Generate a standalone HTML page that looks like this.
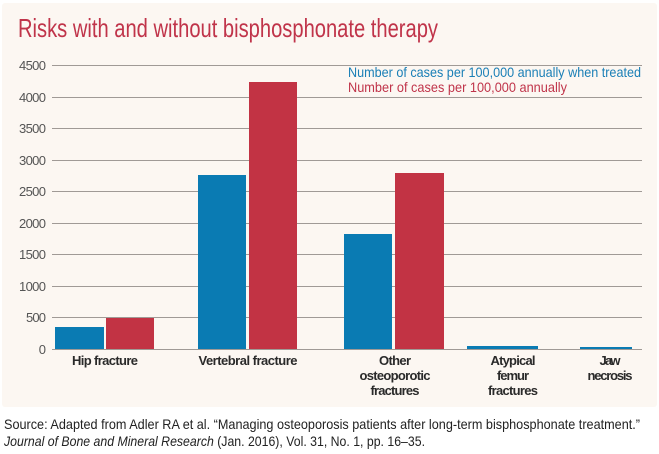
<!DOCTYPE html>
<html><head><meta charset="utf-8"><style>
html,body{margin:0;padding:0;background:#fff;}
svg{display:block;}
text{font-family:"Liberation Sans Narrow","Liberation Sans",sans-serif;}
</style></head><body>
<svg width="659" height="454" viewBox="0 0 659 454" xmlns="http://www.w3.org/2000/svg">
<rect x="2" y="3" width="655" height="404" fill="#fcf7f2" rx="3"/>
<text x="18" y="37" font-size="26" fill="#c0344a" textLength="420" lengthAdjust="spacingAndGlyphs">Risks with and without bisphosphonate therapy</text>
<g stroke="#a09a96" stroke-width="1">
<line x1="52" y1="65.5" x2="642" y2="65.5"/>
<line x1="52" y1="97.5" x2="642" y2="97.5"/>
<line x1="52" y1="128.5" x2="642" y2="128.5"/>
<line x1="52" y1="160.5" x2="642" y2="160.5"/>
<line x1="52" y1="191.5" x2="642" y2="191.5"/>
<line x1="52" y1="223.5" x2="642" y2="223.5"/>
<line x1="52" y1="254.5" x2="642" y2="254.5"/>
<line x1="52" y1="286.5" x2="642" y2="286.5"/>
<line x1="52" y1="317.5" x2="642" y2="317.5"/>
<line x1="52" y1="349.5" x2="642" y2="349.5"/>
</g>
<g font-size="13" fill="#555" text-anchor="end" lengthAdjust="spacingAndGlyphs">
<text x="46" y="70" textLength="27">4500</text><text x="46" y="102" textLength="27">4000</text><text x="46" y="133" textLength="27">3500</text>
<text x="46" y="165" textLength="27">3000</text><text x="46" y="196" textLength="27">2500</text><text x="46" y="228" textLength="27">2000</text>
<text x="46" y="259" textLength="27">1500</text><text x="46" y="291" textLength="27">1000</text><text x="46" y="322" textLength="20">500</text>
<text x="46" y="354">0</text>
</g>
<g fill="#0a7bb3">
<rect x="55" y="327" width="49" height="22"/>
<rect x="198" y="175" width="48" height="174"/>
<rect x="344" y="234" width="48" height="115"/>
<rect x="467" y="346" width="71" height="3"/>
<rect x="580" y="347" width="52" height="2"/>
</g>
<g fill="#c23344">
<rect x="106" y="318" width="48" height="31"/>
<rect x="249" y="82" width="48" height="267"/>
<rect x="395" y="173" width="49" height="176"/>
</g>
<text x="348" y="77" font-size="14" fill="#1a7fb6" textLength="293" lengthAdjust="spacingAndGlyphs">Number of cases per 100,000 annually when treated</text>
<text x="348" y="92" font-size="14" fill="#c0344a" textLength="219" lengthAdjust="spacingAndGlyphs">Number of cases per 100,000 annually</text>
<g font-size="13" font-weight="bold" fill="#2a2a2a" text-anchor="middle" lengthAdjust="spacingAndGlyphs">
<text x="105" y="365" textLength="66">Hip fracture</text>
<text x="248" y="365" textLength="99">Vertebral fracture</text>
<text x="395" y="365" textLength="32">Other</text><text x="395" y="380" textLength="71">osteoporotic</text><text x="395" y="395" textLength="49">fractures</text>
<text x="513" y="365" textLength="45">Atypical</text><text x="513" y="380" textLength="32">femur</text><text x="513" y="395" textLength="50">fractures</text>
<text x="610" y="365" textLength="21">Jaw</text><text x="610" y="380" textLength="45">necrosis</text>
</g>
<text x="4" y="429" font-size="14" fill="#222" textLength="636" lengthAdjust="spacingAndGlyphs">Source: Adapted from Adler RA et al. “Managing osteoporosis patients after long-term bisphosphonate treatment.”</text>
<text x="4" y="446" font-size="14" fill="#222" textLength="421" lengthAdjust="spacingAndGlyphs"><tspan font-style="italic">Journal of Bone and Mineral Research</tspan> (Jan. 2016), Vol. 31, No. 1, pp. 16–35.</text>
</svg>
</body></html>
